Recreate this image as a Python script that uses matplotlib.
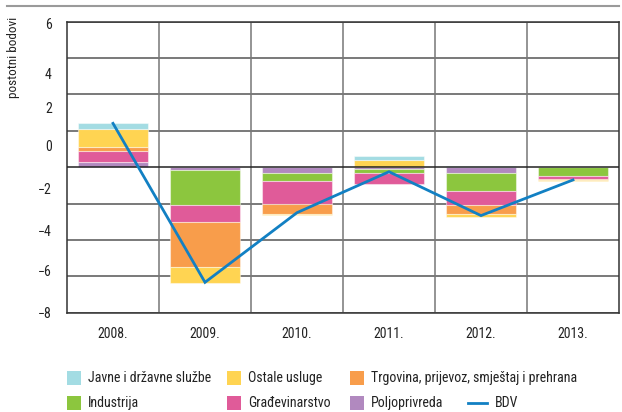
import matplotlib
matplotlib.use("Agg")
import matplotlib.pyplot as plt
from matplotlib.patches import Rectangle
from matplotlib.lines import Line2D
from matplotlib import font_manager
import numpy as np

names = {f.name for f in font_manager.fontManager.ttflist}
narrow = None
for cand in ['Liberation Sans Narrow', 'Roboto Condensed', 'Open Sans Condensed', 'DejaVu Sans Condensed']:
    if cand in names:
        narrow = cand
        break
if narrow:
    plt.rcParams['font.family'] = [narrow, 'DejaVu Sans']
    FS_TICK, FS_LEG, FS_Y = 10, 10, 9.5
else:
    plt.rcParams['font.family'] = ['Liberation Sans', 'DejaVu Sans']
    FS_TICK, FS_LEG, FS_Y = 9.5, 8.7, 9

years = ['2008.', '2009.', '2010.', '2011.', '2012.', '2013.']
# stacking order from zero outward
poljoprivreda = [0.30, -0.15, -0.32, -0.10, -0.32, 0.00]
industrija = [0.00, -1.92, -0.46, -0.20, -1.01, -0.47]
gradevinarstvo = [0.57, -0.92, -1.24, -0.60, -0.73, -0.18]
trgovina = [0.22, -2.47, -0.55, 0.00, -0.51, -0.08]
ostale = [1.01, -0.90, -0.05, 0.41, -0.19, -0.05]
javne = [0.31, 0.00, 0.00, 0.22, 0.08, 0.00]
bdv = [2.41, -6.33, -2.50, -0.25, -2.66, -0.70]

series = [
    ('Poljoprivreda', poljoprivreda, '#b189bf'),
    ('Industrija', industrija, '#8cc63e'),
    ('Građevinarstvo', gradevinarstvo, '#e05b99'),
    ('Trgovina, prijevoz, smještaj i prehrana', trgovina, '#f89d4b'),
    ('Ostale usluge', ostale, '#ffd452'),
    ('Javne i državne službe', javne, '#a3dce3'),
]
ytick_labels = ['6', '4', '2', '0', '−2', '−4', '−6', '−8']
ytick_pos = [7.89, 5.14, 3.27, 1.18, -1.18, -3.49, -5.69, -8.0]

W, H = 622, 412
fig = plt.figure(figsize=(W / 100, H / 100), dpi=100)
ax = fig.add_axes([67 / W, 1 - 312.7 / H, (619 - 67) / W, (312.7 - 21.7) / H])

x = np.arange(len(years))
pos_base = np.zeros(len(years))
neg_base = np.zeros(len(years))
for name, vals, col in series:
    v = np.array(vals)
    bottom = np.where(v >= 0, pos_base, neg_base)
    ax.bar(x, v, bottom=bottom, width=0.77, color=col,
           edgecolor=(1, 1, 1, 0.45), linewidth=0.8, zorder=3)
    pos_base += np.where(v >= 0, v, 0)
    neg_base += np.where(v < 0, v, 0)

ax.plot(x, bdv, color='#1280c3', lw=2, zorder=5, solid_joinstyle='miter')

ax.set_xlim(-0.5, len(years) - 0.5)
ax.set_ylim(-8, 8)
for g in range(-8, 9, 2):
    ax.axhline(g, color='#222222' if g == 0 else '#555555', lw=1.1, zorder=1 if g != 0 else 4)
for b in np.arange(0.5, len(years) - 0.5, 1):
    ax.axvline(b, color='#777777', lw=1.1, zorder=1)

ax.set_xticks(x)
ax.set_xticklabels(years, fontsize=FS_TICK, color='#222222')
ax.set_yticks(ytick_pos)
ax.set_yticklabels(ytick_labels, fontsize=FS_TICK, color='#222222')
ax.tick_params(axis='both', length=0)
ax.tick_params(axis='x', pad=10)
ax.tick_params(axis='y', pad=11)
for s in ax.spines.values():
    s.set_color('#333333')
    s.set_linewidth(1.1)

fig.text(14 / W, 1 - 57 / H, 'postotni bodovi', rotation=90, ha='center', va='center',
         fontsize=FS_Y, color='#222222')

# top decorative rule
fig.add_artist(Line2D([7 / W, 619 / W], [1 - 5.5 / H, 1 - 5.5 / H], color='#9a9a9a', lw=1.5))

# legend
legend_items = [
    ('Javne i državne službe', '#a3dce3', 67.3, 378),
    ('Ostale usluge', '#ffd452', 226.7, 378),
    ('Trgovina, prijevoz, smještaj i prehrana', '#f89d4b', 350, 378),
    ('Industrija', '#8cc63e', 67.3, 403),
    ('Građevinarstvo', '#e05b99', 226.7, 403),
    ('Poljoprivreda', '#b189bf', 350, 403),
]
for label, col, px, py in legend_items:
    fig.add_artist(Rectangle((px / W, 1 - (py + 7) / H), 14 / W, 14 / H,
                             facecolor=col, edgecolor='none', transform=fig.transFigure))
    fig.text((px + 21) / W, 1 - py / H, label, ha='left', va='center', fontsize=FS_LEG, color='#222222')
fig.add_artist(Line2D([468 / W, 487 / W], [1 - 403 / H, 1 - 403 / H], color='#1280c3', lw=2))
fig.text(495 / W, 1 - 403 / H, 'BDV', ha='left', va='center', fontsize=FS_LEG, color='#222222')

fig.savefig('out.png', dpi=100)
